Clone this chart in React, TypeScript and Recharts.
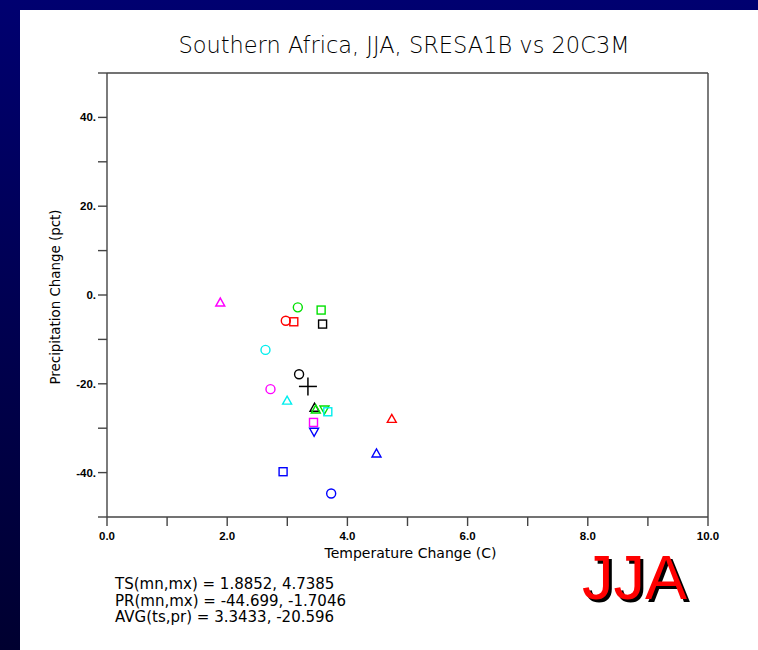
import React from 'react';
import {
  ScatterChart,
  Scatter,
  XAxis,
  YAxis,
} from 'recharts';

// model results (temperature change C, precipitation change pct)
const temps = [
  1.885, 3.175, 3.563, 2.975, 3.108, 3.587, 2.637, 3.196, 2.72, 2.997,
  3.453, 3.474, 3.619, 3.674, 3.436, 3.446, 4.7385, 4.484, 2.93, 3.73,
];
const precips = [
  -1.7, -2.78, -3.39, -5.81, -6.03, -6.55, -12.36, -17.85, -21.2, -23.8,
  -25.4, -25.8, -25.8, -26.3, -28.7, -30.8, -27.9, -35.7, -39.8, -44.699,
];
const markers = [
  'up', 'circle', 'square', 'circle', 'square', 'square', 'circle', 'circle', 'circle', 'up',
  'up', 'up', 'down', 'square', 'square', 'down', 'up', 'up', 'square', 'circle',
];
const colors = [
  '#ff00ff', '#00e000', '#00e000', '#ff0000', '#ff0000', '#000000', '#00eeee', '#000000', '#ff00ff', '#00eeee',
  '#000000', '#00e000', '#00e000', '#00eeee', '#ff00ff', '#0000ff', '#ff0000', '#0000ff', '#0000ff', '#0000ff',
];
const average = { x: 3.3433, y: -20.596 };

const xTicks = [0, 1, 2, 3, 4, 5, 6, 7, 8, 9, 10];
const yTicks = [-50, -40, -30, -20, -10, 0, 10, 20, 30, 40, 50];

const statLines = [
  'TS(mn,mx) = 1.8852, 4.7385',
  'PR(mn,mx) = -44.699, -1.7046',
  'AVG(ts,pr) = 3.3433, -20.596',
];

const points = temps.map((t, i) => ({ x: t, y: precips[i], marker: markers[i], color: colors[i] }));

const Marker = (props: any) => {
  const { cx, cy, payload } = props;
  const c = payload.color;
  const sw = 1.4;
  if (payload.marker === 'circle') {
    return <circle cx={cx} cy={cy} r={4.5} fill="none" stroke={c} strokeWidth={sw} />;
  }
  if (payload.marker === 'square') {
    return <rect x={cx - 4} y={cy - 4} width={8} height={8} fill="none" stroke={c} strokeWidth={sw} />;
  }
  if (payload.marker === 'down') {
    return (
      <polygon
        points={`${cx - 4.5},${cy - 3.5} ${cx + 4.5},${cy - 3.5} ${cx},${cy + 4.5}`}
        fill="none"
        stroke={c}
        strokeWidth={sw}
      />
    );
  }
  return (
    <polygon
      points={`${cx - 4.5},${cy + 3.5} ${cx + 4.5},${cy + 3.5} ${cx},${cy - 4.5}`}
      fill="none"
      stroke={c}
      strokeWidth={sw}
    />
  );
};

const Plus = (props: any) => {
  const { cx, cy } = props;
  return (
    <g stroke="#000" strokeWidth={1.5}>
      <line x1={cx - 9} y1={cy} x2={cx + 9} y2={cy} />
      <line x1={cx} y1={cy - 9} x2={cx} y2={cy + 9} />
    </g>
  );
};

const tickFont = { fontSize: 11.5, fontFamily: 'Liberation Sans, Arial, sans-serif', fontWeight: 700, fill: '#000' };
const axisStroke = { stroke: '#444', strokeWidth: 1.4 };

export default function App() {
  return (
    <div
      style={{
        position: 'fixed',
        left: 0,
        top: 0,
        width: 758,
        height: 650,
        background: 'linear-gradient(to bottom, #000070, #000030)',
        overflow: 'hidden',
      }}
    >
      <div style={{ position: 'absolute', left: 20, top: 10, right: 0, bottom: 0, background: '#fff' }} />
      <div style={{ position: 'absolute', left: 0, top: 0 }}>
        <ScatterChart width={758} height={650} margin={{ top: 63, right: 40, bottom: 103, left: 47 }}>
          <XAxis
            type="number"
            dataKey="x"
            domain={[0, 10]}
            ticks={xTicks}
            interval={0}
            allowDataOverflow
            height={30}
            tickSize={9}
            tickMargin={6}
            axisLine={axisStroke}
            tickLine={axisStroke}
            tick={tickFont}
            tickFormatter={(v: number) => (v % 2 === 0 ? v.toFixed(1) : '')}
          />
          <XAxis
            xAxisId="top"
            orientation="top"
            type="number"
            domain={[0, 10]}
            ticks={xTicks}
            interval={0}
            allowDataOverflow
            height={10}
            tickSize={9}
            axisLine={axisStroke}
            tickLine={axisStroke}
            tick={false}
          />
          <YAxis
            type="number"
            dataKey="y"
            domain={[-50, 50]}
            ticks={yTicks}
            interval={0}
            allowDataOverflow
            width={60}
            tickSize={9}
            tickMargin={2}
            axisLine={axisStroke}
            tickLine={axisStroke}
            tick={tickFont}
            tickFormatter={(v: number) => (v % 20 === 0 && Math.abs(v) < 50 ? `${v}.` : '')}
          />
          <YAxis
            yAxisId="right"
            orientation="right"
            type="number"
            domain={[-50, 50]}
            ticks={yTicks}
            interval={0}
            allowDataOverflow
            width={10}
            tickSize={9}
            axisLine={axisStroke}
            tickLine={axisStroke}
            tick={false}
          />
          <Scatter data={points} shape={<Marker />} isAnimationActive={false} />
          <Scatter data={[average]} shape={<Plus />} isAnimationActive={false} />
        </ScatterChart>
      </div>
      <div
        style={{
          position: 'absolute',
          left: 0,
          width: 808,
          top: 32,
          textAlign: 'center',
          fontFamily: 'DejaVu Sans, sans-serif',
          fontWeight: 300,
          fontSize: 22.5,
          color: '#000',
          whiteSpace: 'nowrap',
        }}
      >
        Southern Africa, JJA, SRESA1B vs 20C3M
      </div>
      <div
        style={{
          position: 'absolute',
          left: 110,
          width: 601,
          top: 545,
          textAlign: 'center',
          fontFamily: 'DejaVu Sans, sans-serif',
          fontSize: 14,
          color: '#000',
        }}
      >
        Temperature Change (C)
      </div>
      <div
        style={{
          position: 'absolute',
          left: 55,
          top: 297,
          transform: 'translate(-50%, -50%) rotate(-90deg)',
          fontFamily: 'DejaVu Sans, sans-serif',
          fontSize: 13.4,
          color: '#000',
          whiteSpace: 'nowrap',
        }}
      >
        Precipitation Change (pct)
      </div>
      <div
        style={{
          position: 'absolute',
          left: 115,
          top: 576,
          fontFamily: 'DejaVu Sans, sans-serif',
          fontSize: 15,
          lineHeight: '16.5px',
          color: '#000',
          whiteSpace: 'nowrap',
        }}
      >
        {statLines.map((s) => (
          <div key={s}>{s}</div>
        ))}
      </div>
      <div
        style={{
          position: 'absolute',
          left: 582,
          top: 546,
          fontFamily: 'Liberation Sans, Arial, sans-serif',
          fontSize: 63,
          lineHeight: '63px',
          color: '#ff0000',
          textShadow: '3px 3px 0 #000',
          whiteSpace: 'nowrap',
        }}
      >
        JJA
      </div>
    </div>
  );
}
